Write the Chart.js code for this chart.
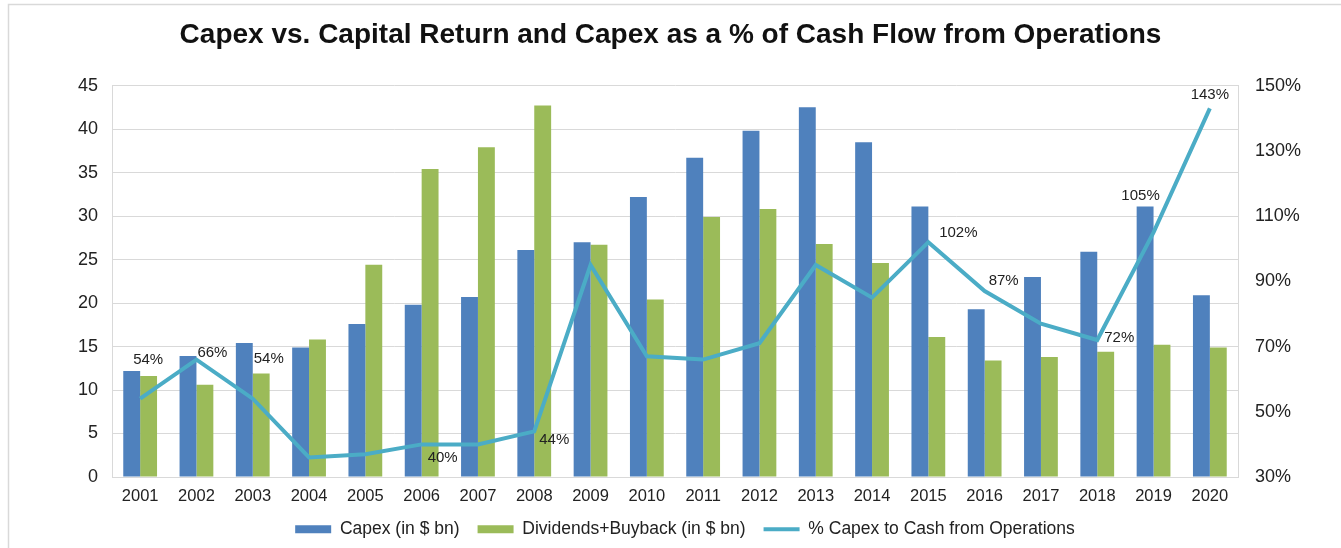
<!DOCTYPE html>
<html>
<head>
<meta charset="utf-8">
<script src="https://cdn.jsdelivr.net/npm/chart.js@4.4.1/dist/chart.umd.min.js"></script>
<style>
  body { margin: 0; background: #fff; }
  canvas { display: block; }
</style>
</head>
<body>
<canvas id="grafico" width="1341" height="548"></canvas>
<script>
'use strict';

// dados
const anos = ['2001', '2002', '2003', '2004', '2005', '2006', '2007', '2008', '2009', '2010',
              '2011', '2012', '2013', '2014', '2015', '2016', '2017', '2018', '2019', '2020'];
const capex = [12.2, 13.9, 15.4, 14.9, 17.6, 19.8, 20.7, 26.1, 27.0, 32.2,
               36.7, 39.8, 42.5, 38.5, 31.1, 19.3, 23.0, 25.9, 31.1, 20.9];
const dividendosRecompra = [11.6, 10.6, 11.9, 15.8, 24.4, 35.4, 37.9, 42.7, 26.7, 20.4,
                            29.9, 30.8, 26.8, 24.6, 16.1, 13.4, 13.8, 14.4, 15.2, 14.9];
const capexPorCaixa = [54, 66, 54, 36, 37, 40, 40, 44, 95, 67,
                       66, 71, 95, 85, 102, 87, 77, 72, 105, 143];
const ticksEsquerda = [0, 45, 5];
const ticksDireita = [30, 150, 20];

// quais pontos da linha tem rotulo, e onde fica o texto em relacao ao ponto
const rotulos = {
    0: [8, -39], 1: [16, -7], 2: [16, -40], 5: [21, 13], 7: [20, 9],
    14: [30, -9], 15: [19, -10], 17: [22, -2], 18: [-13, -37], 19: [0, -14]
};

const fonte = '"Liberation Sans", Arial, sans-serif';
const cinzaGrade = '#d9d9d9';

const moldura = {
    id: 'moldura',
    beforeDraw(chart) {
        const ctx = chart.ctx;
        ctx.save();
        ctx.fillStyle = '#fff';
        ctx.fillRect(0, 0, chart.width, chart.height);
        ctx.strokeStyle = cinzaGrade;
        ctx.lineWidth = 1.5;
        ctx.beginPath();
        ctx.moveTo(8.5, chart.height);
        ctx.lineTo(8.5, 4.5);
        ctx.lineTo(chart.width, 4.5);
        ctx.stroke();
        ctx.restore();
    }
};

// legenda do original fica um pouco a direita do centro
const deslocaLegenda = {
    id: 'deslocaLegenda',
    afterLayout(chart) {
        chart.legend.left += 10;
        chart.legend.right += 10;
    }
};

const rotulosLinha = {
    id: 'rotulosLinha',
    afterDatasetsDraw(chart) {
        const ctx = chart.ctx;
        const meta = chart.getDatasetMeta(2);
        ctx.save();
        ctx.font = '15px ' + fonte;
        ctx.fillStyle = '#222';
        ctx.textAlign = 'center';
        ctx.textBaseline = 'middle';
        Object.keys(rotulos).forEach(i => {
            const ponto = meta.data[i];
            const [dx, dy] = rotulos[i];
            ctx.fillText(capexPorCaixa[i] + '%', ponto.x + dx, ponto.y + dy);
        });
        ctx.restore();
    }
};

const grafico = new Chart(document.getElementById('grafico'), {
    type: 'bar',
    data: {
        labels: anos,
        datasets: [{
            label: 'Capex (in $ bn)',
            data: capex,
            backgroundColor: '#4f81bd',
            borderWidth: 0,
            pointStyle: 'rect',
            yAxisID: 'y',
            order: 2
        }, {
            label: 'Dividends+Buyback (in $ bn)',
            data: dividendosRecompra,
            backgroundColor: '#9bbb59',
            borderWidth: 0,
            pointStyle: 'rect',
            yAxisID: 'y',
            order: 2
        }, {
            type: 'line',
            label: '% Capex to Cash from Operations',
            data: capexPorCaixa,
            borderColor: '#4bacc6',
            backgroundColor: '#4bacc6',
            borderWidth: 4,
            pointRadius: 0,
            pointStyle: 'line',
            tension: 0,
            yAxisID: 'y1',
            order: 1
        }]
    },
    options: {
        responsive: false,
        animation: false,
        layout: { padding: { left: 0, right: 0, top: 0, bottom: 0 } },
        datasets: {
            bar: { categoryPercentage: 0.6, barPercentage: 1.0 }
        },
        plugins: {
            tooltip: { enabled: false },
            title: {
                display: true,
                text: 'Capex vs. Capital Return and Capex as a % of Cash Flow from Operations',
                color: '#111',
                font: { family: fonte, size: 28, weight: 'bold', lineHeight: 1.2 },
                padding: { top: 18, bottom: 34 }
            },
            legend: {
                position: 'bottom',
                fullSize: false,
                labels: {
                    usePointStyle: true,
                    pointStyleWidth: 36,
                    boxHeight: 8,
                    padding: 18,
                    color: '#222',
                    font: { family: fonte, size: 17.5 },
                    sort: (a, b) => a.datasetIndex - b.datasetIndex
                }
            }
        },
        scales: {
            x: {
                grid: { display: false, drawTicks: false },
                border: { display: true, color: cinzaGrade },
                ticks: {
                    padding: 10,
                    color: '#222',
                    maxRotation: 0,
                    font: { family: fonte, size: 16.5 }
                },
                afterFit(escala) { escala.height = 25.5; }
            },
            y: {
                position: 'left',
                min: ticksEsquerda[0],
                max: ticksEsquerda[1],
                ticks: {
                    stepSize: ticksEsquerda[2],
                    padding: 14,
                    color: '#222',
                    font: { family: fonte, size: 18 }
                },
                grid: { color: cinzaGrade, drawTicks: false },
                border: { display: true, color: cinzaGrade },
                afterFit(escala) { escala.width = 112; }
            },
            y1: {
                position: 'right',
                min: ticksDireita[0],
                max: ticksDireita[1],
                ticks: {
                    stepSize: ticksDireita[2],
                    padding: 17,
                    color: '#222',
                    font: { family: fonte, size: 18 },
                    callback: valor => valor + '%'
                },
                grid: { display: false, drawTicks: false },
                border: { display: true, color: cinzaGrade },
                afterFit(escala) { escala.width = 103; }
            }
        }
    },
    plugins: [moldura, deslocaLegenda, rotulosLinha]
});
</script>
</body>
</html>
